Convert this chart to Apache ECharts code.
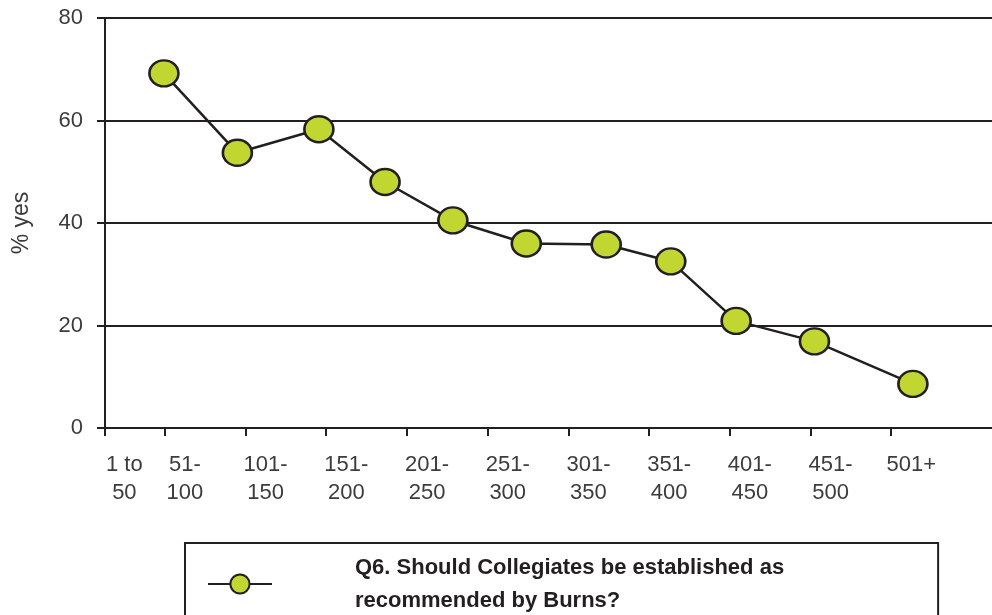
<!DOCTYPE html>
<html>
<head>
<meta charset="utf-8">
<script src="https://cdn.jsdelivr.net/npm/echarts@6/dist/echarts.min.js"></script>
<style>
  html, body { margin: 0; padding: 0; background: #fff; }
  #chart { width: 992px; height: 615px; }
</style>
</head>
<body>
<div id="chart"></div>
<script>
// ---- data ----
const categories = ["1 to\n50", "51-\n100", "101-\n150", "151-\n200", "201-\n250", "251-\n300",
                    "301-\n350", "351-\n400", "401-\n450", "451-\n500", "501+"];
// horizontal position of each plotted point, in tick units along the x axis
const pointX = [-0.01, 0.90, 1.91, 2.73, 3.57, 4.48, 5.47, 6.27, 7.08, 8.05, 9.27];
const yesPct = [69.2, 53.7, 58.3, 48.0, 40.5, 36.0, 35.8, 32.5, 20.9, 16.9, 8.6];
const yTicks = [0, 20, 40, 60, 80];
const seriesName = "Q6. Should Collegiates be established as\nrecommended by Burns?";

// ---- layout ----
const xMin = -0.74, xMax = 10.25;
const tickVals = [xMin, 0, 1, 2, 3, 4, 5, 6, 7, 8, 9];
const labelPos = categories.map((c, i) => (i === 0 ? -0.5 : i - 0.75));
const ink = '#231f20';
const txt = '#3c3c3c';

const chart = echarts.init(document.getElementById('chart'), null, { renderer: 'canvas' });
chart.setOption({
  animation: false,
  backgroundColor: '#ffffff',
  grid: { left: 105, right: 0, top: 18, bottom: 187, containLabel: false },
  xAxis: {
    type: 'value',
    min: xMin,
    max: xMax,
    axisLine: { show: true, onZero: false, lineStyle: { color: ink, width: 2 } },
    axisTick: { show: true, length: 8, customValues: tickVals, lineStyle: { color: ink, width: 2 } },
    splitLine: { show: false },
    axisLabel: {
      customValues: labelPos,
      margin: 23,
      fontFamily: 'Liberation Sans',
      fontSize: 22,
      lineHeight: 28,
      color: txt,
      formatter: function (v) {
        let best = 0, d = Infinity;
        labelPos.forEach((p, i) => { if (Math.abs(p - v) < d) { d = Math.abs(p - v); best = i; } });
        return categories[best];
      }
    }
  },
  yAxis: {
    type: 'value',
    min: yTicks[0],
    max: yTicks[yTicks.length - 1],
    interval: yTicks[1] - yTicks[0],
    name: '% yes',
    nameLocation: 'middle',
    nameRotate: 90,
    nameGap: 72,
    nameTextStyle: { fontFamily: 'Liberation Sans', fontSize: 23, color: txt },
    axisLine: { show: true, onZero: false, lineStyle: { color: ink, width: 2 } },
    axisTick: { show: true, length: 8, lineStyle: { color: ink, width: 2 } },
    splitLine: { show: true, lineStyle: { color: ink, width: 2 } },
    axisLabel: { margin: 22, fontFamily: 'Liberation Sans', fontSize: 22, color: txt }
  },
  legend: {
    show: true,
    left: 185,
    top: 543,
    orient: 'vertical',
    borderColor: ink,
    borderWidth: 2,
    padding: [8, 154, 40, 22],
    itemWidth: 64,
    itemHeight: 24,
    textStyle: {
      fontFamily: 'Liberation Sans',
      fontWeight: 'bold',
      fontSize: 22,
      lineHeight: 33,
      color: ink,
      padding: [0, 0, 0, 78]
    },
    data: [seriesName]
  },
  series: [{
    name: seriesName,
    type: 'line',
    data: pointX.map((x, i) => [x, yesPct[i]]),
    symbol: 'circle',
    symbolSize: [29, 26],
    itemStyle: { color: '#c2d631', borderColor: ink, borderWidth: 2.5 },
    lineStyle: { color: ink, width: 2.5 },
    z: 5
  }]
});
</script>
</body>
</html>
